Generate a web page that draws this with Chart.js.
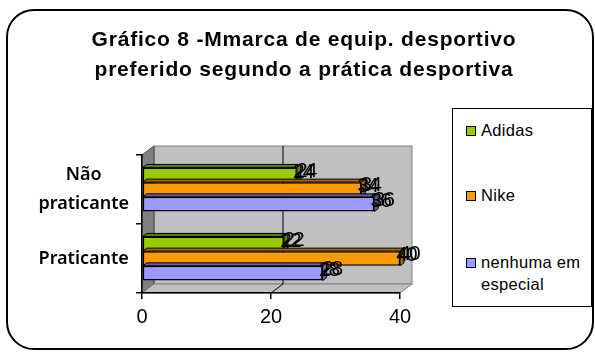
<!DOCTYPE html>
<html>
<head>
<meta charset="utf-8">
<script src="https://cdn.jsdelivr.net/npm/chart.js@4/dist/chart.umd.min.js"></script>
<style>
  body { margin: 0; background: #fff; }
  #wrap { position: relative; width: 595px; height: 356px; overflow: hidden; }
  #frame { position: absolute; left: 6px; top: 9px; width: 584px; height: 337px;
           border: 2px solid #000; border-radius: 28px; }
  #grafico { position: absolute; left: 0; top: 0; }
  #titulo { position: absolute; left: 0; width: 608px; top: 24px; text-align: center;
            font-family: "Liberation Sans", Arial, sans-serif; font-size: 21px; font-weight: bold;
            letter-spacing: 0.8px; line-height: 30px; color: #000; }
  #legenda { position: absolute; left: 452px; top: 108px; width: 138px; height: 197px;
             border: 1.5px solid #000; background: #fff;
             font-family: "Liberation Sans", Arial, sans-serif; font-size: 16.5px; color: #000; }
  .item { position: absolute; left: 13px; display: flex; align-items: flex-start; }
  .item span.cx { width: 8px; height: 8px; border: 1.5px solid #000; margin-top: 5px; margin-right: 5px; flex: none; }
  .item div { line-height: 22px; margin-top: -2px; letter-spacing: 0.3px; }
</style>
</head>
<body>
<div id="wrap">
  <div id="frame"></div>
  <canvas id="grafico" width="595" height="356"></canvas>
  <div id="titulo">Gráfico 8 -Mmarca de equip. desportivo<br>preferido segundo a prática desportiva</div>
  <div id="legenda"></div>
</div>
<script>
// Dados do gráfico
const categorias = [['Não', 'praticante'], 'Praticante'];
const series = ['Adidas', 'Nike', 'nenhuma em especial'];
const adidas = [24, 22];
const nike = [34, 40];
const nenhuma = [36, 28];
const xTicks = [0, 20, 40];

const cores = ['#99CC00', '#FF9900', '#9999FF'];
const coresEscuras = ['#5f7f00', '#a86400', '#6060b0'];

// profundidade do efeito 3D
const DX = 12, DY = -9;

// Paredes do gráfico 3D (fundo, lateral e chão)
const paredes = {
    id: 'paredes',
    beforeDraw(chart) {
        const ctx = chart.ctx;
        const a = chart.chartArea;
        const xs = chart.scales.x;
        ctx.save();
        ctx.lineWidth = 1;
        ctx.strokeStyle = '#808080';
        // parede do fundo
        ctx.fillStyle = '#C0C0C0';
        ctx.fillRect(a.left + DX, a.top + DY, a.right - a.left, a.bottom - a.top);
        ctx.strokeRect(a.left + DX, a.top + DY, a.right - a.left, a.bottom - a.top);
        // parede lateral
        ctx.fillStyle = '#808080';
        ctx.beginPath();
        ctx.moveTo(a.left, a.top);
        ctx.lineTo(a.left + DX, a.top + DY);
        ctx.lineTo(a.left + DX, a.bottom + DY);
        ctx.lineTo(a.left, a.bottom);
        ctx.closePath();
        ctx.fill();
        ctx.strokeStyle = '#404040';
        ctx.stroke();
        // chão
        ctx.fillStyle = '#C0C0C0';
        ctx.beginPath();
        ctx.moveTo(a.left, a.bottom);
        ctx.lineTo(a.left + DX, a.bottom + DY);
        ctx.lineTo(a.right + DX, a.bottom + DY);
        ctx.lineTo(a.right, a.bottom);
        ctx.closePath();
        ctx.fill();
        ctx.strokeStyle = '#808080';
        ctx.stroke();
        // linhas de grelha
        ctx.strokeStyle = '#000';
        xTicks.slice(1, -1).forEach(v => {
            const px = xs.getPixelForValue(v);
            ctx.beginPath();
            ctx.moveTo(px, a.bottom);
            ctx.lineTo(px + DX, a.bottom + DY);
            ctx.lineTo(px + DX, a.top + DY);
            ctx.stroke();
        });
        ctx.restore();
    }
};

// Faces 3D das barras e rótulos de valores
const barras3d = {
    id: 'barras3d',
    afterDatasetsDraw(chart) {
        const ctx = chart.ctx;
        const d = 4, e = -3;
        ctx.save();
        chart.data.datasets.forEach((ds, i) => {
            const meta = chart.getDatasetMeta(i);
            meta.data.forEach(el => {
                const top = el.y - el.height / 2;
                const bot = el.y + el.height / 2;
                ctx.lineWidth = 1;
                ctx.strokeStyle = '#000';
                ctx.fillStyle = coresEscuras[i];
                ctx.beginPath();
                ctx.moveTo(el.base, top);
                ctx.lineTo(el.base + d, top + e);
                ctx.lineTo(el.x + d, top + e);
                ctx.lineTo(el.x, top);
                ctx.closePath();
                ctx.fill(); ctx.stroke();
                ctx.beginPath();
                ctx.moveTo(el.x, top);
                ctx.lineTo(el.x + d, top + e);
                ctx.lineTo(el.x + d, bot + e);
                ctx.lineTo(el.x, bot);
                ctx.closePath();
                ctx.fill(); ctx.stroke();
            });
        });
        // rótulos
        ctx.font = '21px "Liberation Sans", Arial, sans-serif';
        ctx.fillStyle = '#000';
        ctx.textAlign = 'center';
        ctx.textBaseline = 'middle';
        if ('letterSpacing' in ctx) ctx.letterSpacing = '-2px';
        chart.data.datasets.forEach((ds, i) => {
            const meta = chart.getDatasetMeta(i);
            meta.data.forEach((el, j) => {
                const txt = String(ds.data[j]);
                ctx.fillText(txt, el.x + 6, el.y - 3);
                ctx.fillText(txt, el.x + 9, el.y - 4);
            });
        });
        ctx.restore();
    }
};

const ctx = document.getElementById('grafico').getContext('2d');
new Chart(ctx, {
    type: 'bar',
    data: {
        labels: categorias,
        datasets: [
            { label: series[0], data: adidas, backgroundColor: cores[0] },
            { label: series[1], data: nike, backgroundColor: cores[1] },
            { label: series[2], data: nenhuma, backgroundColor: cores[2] }
        ]
    },
    options: {
        indexAxis: 'y',
        responsive: false,
        animation: false,
        datasets: {
            bar: {
                borderColor: '#000',
                borderWidth: 1.5,
                borderSkipped: false,
                barPercentage: 1,
                categoryPercentage: 0.64
            }
        },
        layout: { padding: { top: 155, right: 195, bottom: 0, left: 0 } },
        plugins: {
            legend: { display: false },
            tooltip: { enabled: false },
            title: { display: false }
        },
        scales: {
            x: {
                min: 0,
                max: 40,
                afterBuildTicks(scale) { scale.ticks = xTicks.map(v => ({ value: v })); },
                afterFit(scale) { scale.height = 356 - 293; },
                grid: { drawOnChartArea: false, color: '#000', tickLength: 6, lineWidth: 1.5 },
                border: { color: '#000', width: 1.5 },
                ticks: {
                    color: '#000',
                    padding: 6,
                    font: { family: '"Liberation Sans", Arial, sans-serif', size: 20 }
                }
            },
            y: {
                afterFit(scale) { scale.width = 142; },
                grid: { drawOnChartArea: false, color: '#000', tickLength: 6, lineWidth: 1.5 },
                border: { color: '#000', width: 1.5 },
                ticks: {
                    color: '#000',
                    padding: 7,
                    crossAlign: 'center',
                    font: { family: '"Noto Sans", "DejaVu Sans", sans-serif', size: 18, weight: '600', lineHeight: 1.6 }
                }
            }
        }
    },
    plugins: [paredes, barras3d]
});

// Legenda
const leg = document.getElementById('legenda');
const posY = [12, 77, 144];
series.forEach((s, i) => {
    const it = document.createElement('div');
    it.className = 'item';
    it.style.top = posY[i] + 'px';
    const cx = document.createElement('span');
    cx.className = 'cx';
    cx.style.background = cores[i];
    const tx = document.createElement('div');
    tx.innerHTML = s === 'nenhuma em especial' ? 'nenhuma em<br>especial' : s;
    it.appendChild(cx);
    it.appendChild(tx);
    leg.appendChild(it);
});
</script>
</body>
</html>
